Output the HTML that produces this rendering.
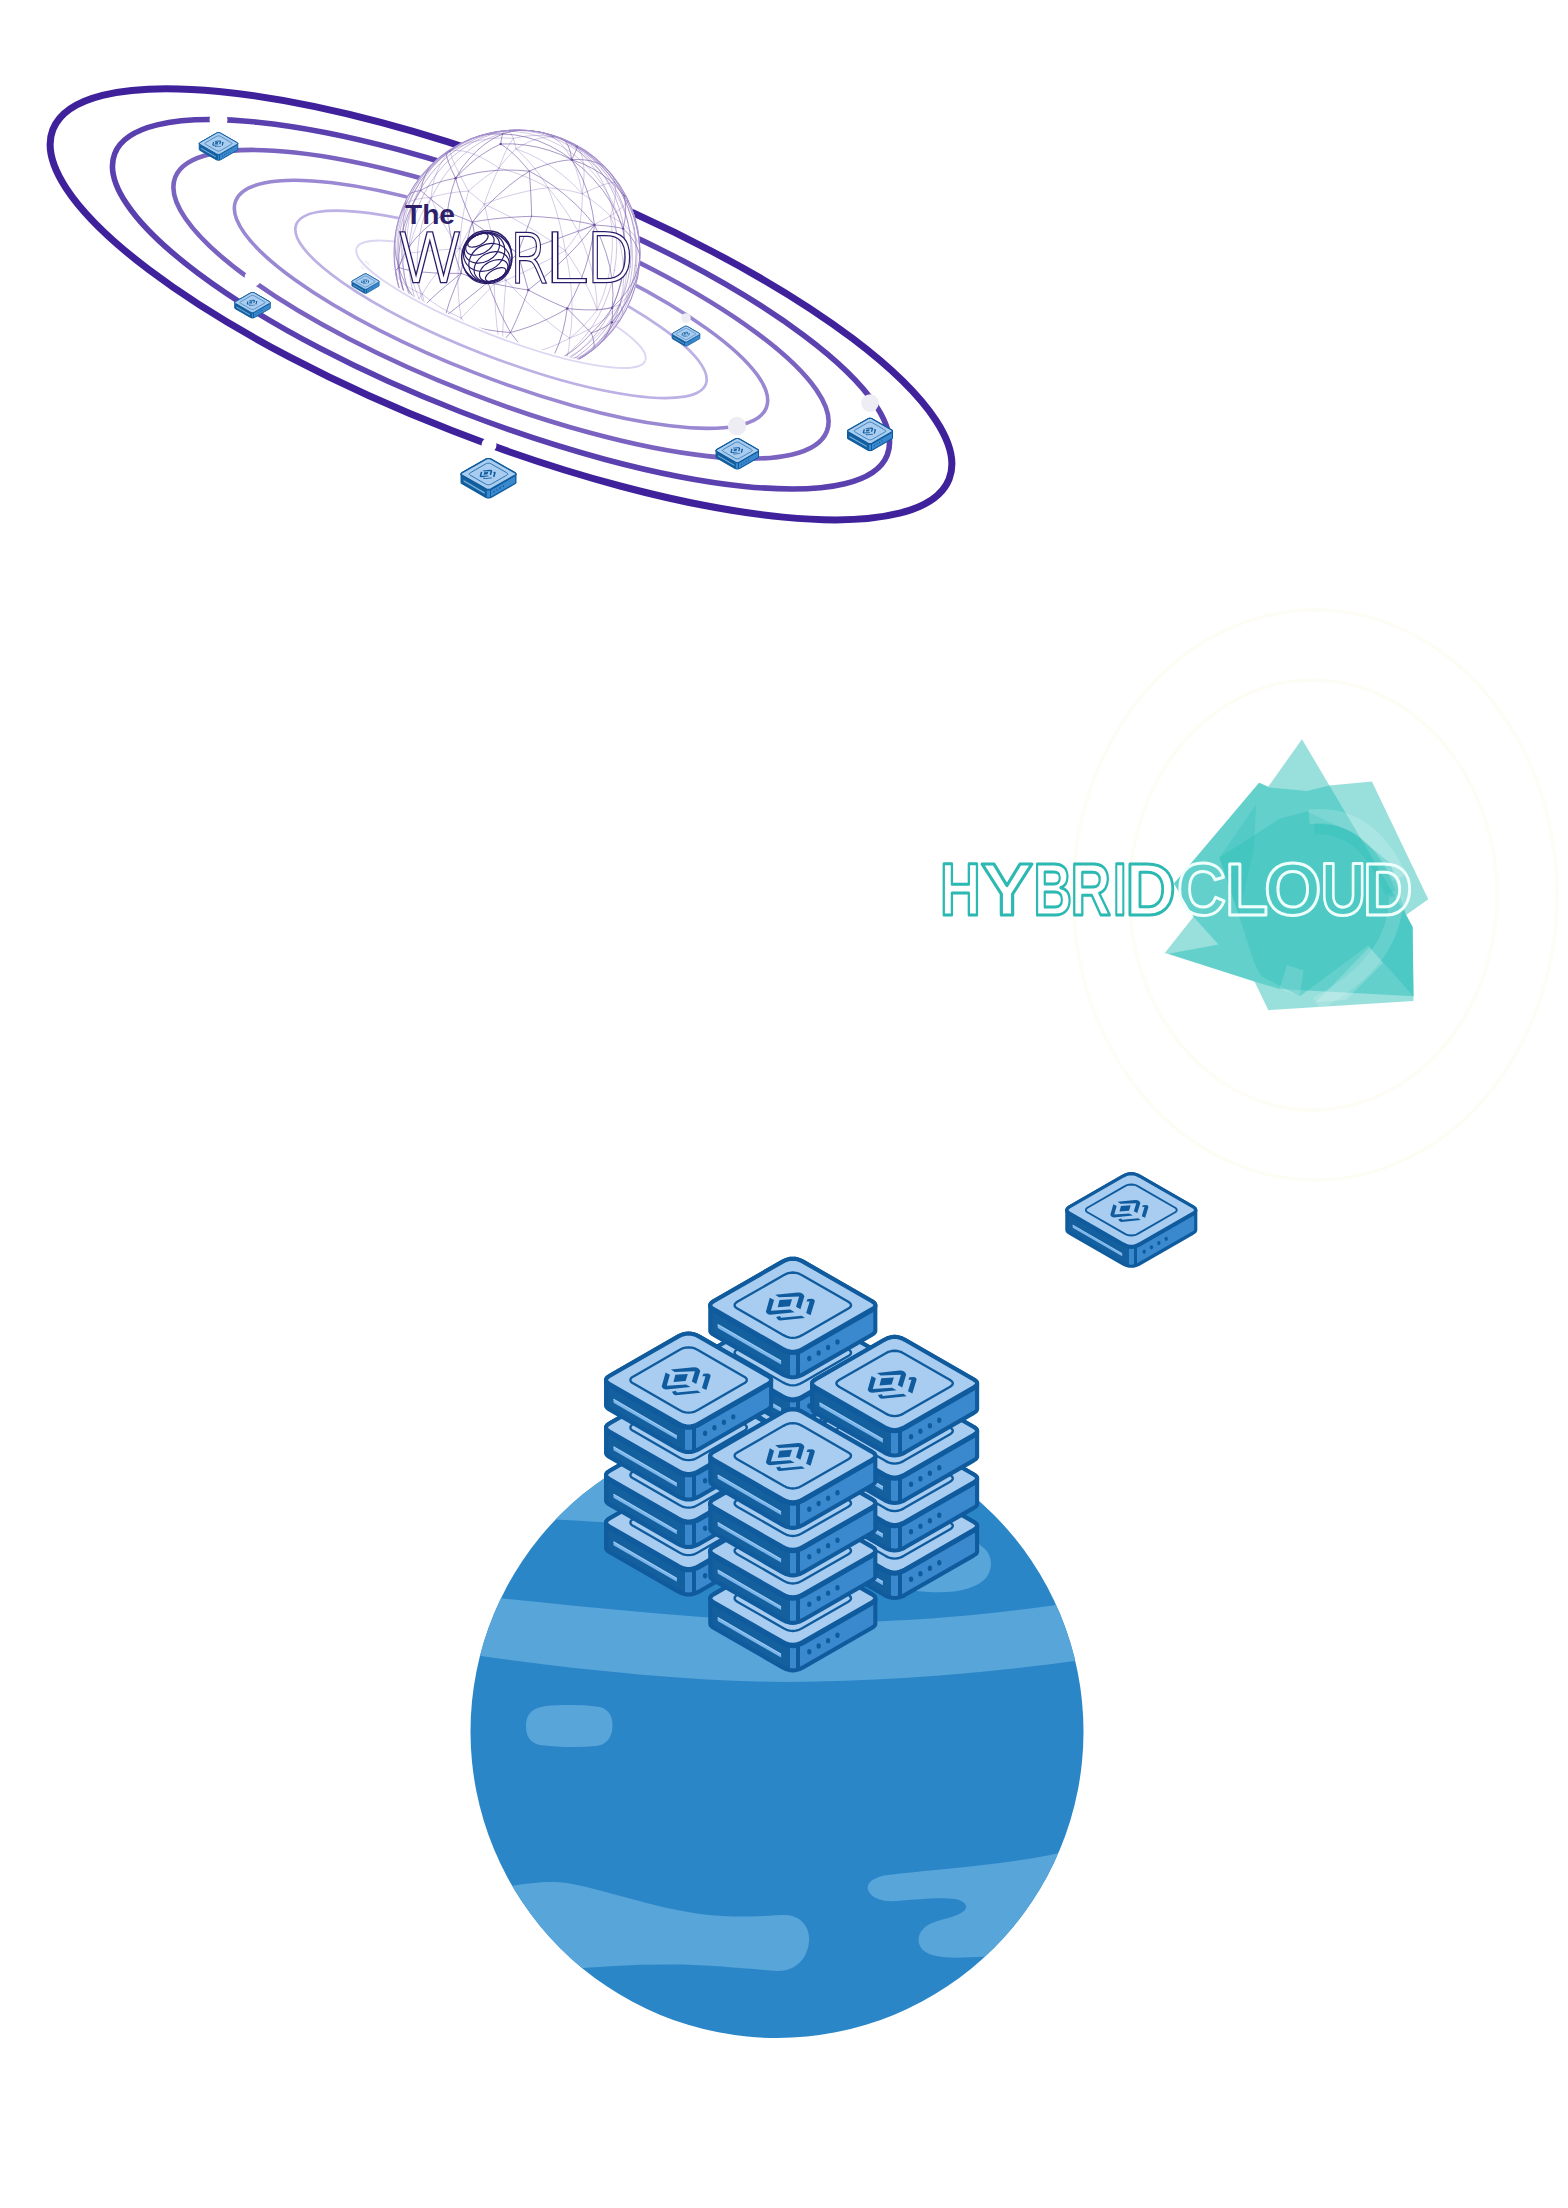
<!DOCTYPE html>
<html lang="en"><head><meta charset="utf-8"><title>The World - Hybrid Cloud</title>
<style>html,body{margin:0;padding:0;background:#fff}body{width:1568px;height:2208px;overflow:hidden}svg{display:block}text{font-family:"Liberation Sans",sans-serif}</style>
</head><body>
<svg width="1568" height="2208" viewBox="0 0 1568 2208">
<defs>
<linearGradient id="sg" gradientUnits="userSpaceOnUse" x1="-85" y1="0" x2="85" y2="0">
<stop offset="0.0000" stop-color="#145f9e"/>
<stop offset="0.4812" stop-color="#145f9e"/>
<stop offset="0.4812" stop-color="#3a89ce"/>
<stop offset="0.5212" stop-color="#3a89ce"/>
<stop offset="0.5212" stop-color="#0f5b9d"/>
<stop offset="0.5435" stop-color="#0f5b9d"/>
<stop offset="0.5435" stop-color="#3a89ce"/>
<stop offset="1.0000" stop-color="#3a89ce"/>
</linearGradient>
<g id="tb">
<path d="M-84.6,0 -84.4,-1 -83.8,-2 -82.7,-3 -81.2,-4 -10.4,-44.7 -7.8,-46 -5.2,-46.9 -2.6,-47.5 0,-47.7 2.6,-47.5 5.2,-46.9 7.8,-46 10.4,-44.7 81.2,-4 82.7,-3 83.8,-2 84.4,-1 84.6,0 84.6,26.2 84.4,27.2 83.8,28.2 82.7,29.2 81.2,30.2 10.4,70.9 7.8,72.2 5.2,73.1 2.6,73.7 0,73.9 -2.6,73.7 -5.2,73.1 -7.8,72.2 -10.4,70.9 -81.2,30.2 -82.7,29.2 -83.8,28.2 -84.4,27.2 -84.6,26.2Z" fill="url(#sg)" stroke="#0f5b9d" stroke-width="4.2" stroke-linejoin="round"/>
<path d="M-77,20 L-12,57.5 L-12,60.8 L-77,23.3Z" fill="#7ab6ec"/>
<path d="M-77,19.8 L-12,57.3" stroke="#a4cff5" stroke-width="1.2" fill="none"/>
<ellipse cx="16.9" cy="54.7" rx="2.2" ry="2.8" fill="#0f5b9d"/>
<ellipse cx="26.5" cy="49" rx="2.2" ry="2.8" fill="#0f5b9d"/>
<ellipse cx="36.2" cy="43.4" rx="2.2" ry="2.8" fill="#0f5b9d"/>
<ellipse cx="45.8" cy="37.8" rx="2.2" ry="2.8" fill="#0f5b9d"/>
<path d="M-10.4,-44.7 -7.8,-46 -5.2,-46.9 -2.6,-47.5 0,-47.7 2.6,-47.5 5.2,-46.9 7.8,-46 10.4,-44.7 81.2,-4 82.7,-3 83.8,-2 84.4,-1 84.6,0 84.4,1 83.8,2 82.7,3 81.2,4 10.4,44.7 7.8,46 5.2,46.9 2.6,47.5 0,47.7 -2.6,47.5 -5.2,46.9 -7.8,46 -10.4,44.7 -81.2,4 -82.7,3 -83.8,2 -84.4,1 -84.6,0 -84.4,-1 -83.8,-2 -82.7,-3 -81.2,-4Z" fill="none" stroke="#0f5b9d" stroke-width="4.2" stroke-linejoin="round" transform="translate(0 1.3)"/>
<path d="M-10.4,-44.7 -7.8,-46 -5.2,-46.9 -2.6,-47.5 0,-47.7 2.6,-47.5 5.2,-46.9 7.8,-46 10.4,-44.7 81.2,-4 82.7,-3 83.8,-2 84.4,-1 84.6,0 84.4,1 83.8,2 82.7,3 81.2,4 10.4,44.7 7.8,46 5.2,46.9 2.6,47.5 0,47.7 -2.6,47.5 -5.2,46.9 -7.8,46 -10.4,44.7 -81.2,4 -82.7,3 -83.8,2 -84.4,1 -84.6,0 -84.4,-1 -83.8,-2 -82.7,-3 -81.2,-4Z" fill="#a9cdf0" stroke="#0f5b9d" stroke-width="4.2" stroke-linejoin="round"/>
<path d="M-9.5,-30.7 -6.4,-32.3 -3.2,-33.2 0,-33.5 3.2,-33.2 6.4,-32.3 9.5,-30.7 56.5,-3.7 58.3,-2.5 59.4,-1.2 59.7,0 59.4,1.2 58.3,2.5 56.5,3.7 9.5,30.7 6.4,32.3 3.2,33.2 0,33.5 -3.2,33.2 -6.4,32.3 -9.5,30.7 -56.5,3.7 -58.3,2.5 -59.4,1.2 -59.7,0 -59.4,-1.2 -58.3,-2.5 -56.5,-3.7Z" fill="none" stroke="#0f5b9d" stroke-width="2.4" stroke-linejoin="round"/>
</g>
<g id="lg" fill="#0f5b9d">
<path d="M-23.6,-7.7 L-19.2,-5.3 L-22.4,5.8 L-2.6,4.5 L2,7.1 L-22.9,9.7 Q-26.4,9.6 -27.6,6.6Z"/>
<path d="M-18.1,-10.7 L5.2,-13.1 Q10.5,-13.4 11.9,-9.2 L7.8,4.1 L3.3,1.6 L6.5,-8.9 L-14.2,-8.1Z"/>
<path d="M-13.6,-5.3 L-0.8,-6.1 L-3,1 L-15.5,2.1Z"/>
<path d="M15.2,-6.4 L19.9,-6.6 Q22.8,-6 22.5,-3.8 L18.2,10.3 L13.7,8.1 L17.3,-3.8 L14.1,-3.8Z"/>
<path d="M-17.1,12 L-13,11 L-12.1,12.8 L9.1,10.7 L12.4,13.1 L-13,15.7 Q-15.4,15.4 -15.8,14.2Z"/>
</g>
<g id="t"><use href="#tb"/><use href="#lg"/></g>
</defs>
<g fill="none" stroke="#fdfdf5" stroke-width="3.5">
<ellipse cx="1313" cy="895" rx="184" ry="215"/>
<ellipse cx="1315" cy="895" rx="242" ry="285"/>
</g>
<g fill="none" transform="translate(501 304.3) rotate(21.3)">
<ellipse cx="0" cy="0" rx="481" ry="135.5" stroke="#3f229b" stroke-width="7.0"/>
<ellipse cx="0" cy="0" rx="414.6" ry="114.8" stroke="#5a3fae" stroke-width="5.6"/>
<ellipse cx="0" cy="0" rx="349.7" ry="94.1" stroke="#7a62c0" stroke-width="4.6"/>
<ellipse cx="0" cy="0" rx="284.8" ry="73.4" stroke="#9a88d2" stroke-width="3.6"/>
<ellipse cx="0" cy="0" rx="219.8" ry="52.7" stroke="#bcb0e4" stroke-width="2.7"/>
<ellipse cx="0" cy="0" rx="154.9" ry="32" stroke="#dcd6f3" stroke-width="1.8"/>
</g>
<circle cx="218.5" cy="120" r="9" fill="#ffffff"/>
<circle cx="253" cy="278" r="8.5" fill="#ffffff"/>
<circle cx="365" cy="265" r="4.5" fill="#f1f0f6"/>
<circle cx="686" cy="318" r="4.8" fill="#eeedf3"/>
<circle cx="870" cy="403" r="8.8" fill="#eeedf3"/>
<circle cx="737" cy="426" r="9.2" fill="#eeedf3"/>
<circle cx="489" cy="445" r="7.5" fill="#ffffff"/>
<clipPath id="gc"><rect x="-1000" y="-1000" width="2000" height="1000" transform="translate(501 304.3) rotate(21.3)"/><ellipse cx="0" cy="0" rx="153.9" ry="31" transform="translate(501 304.3) rotate(21.3)"/></clipPath>
<clipPath id="gcc"><circle cx="517" cy="253" r="123.5"/></clipPath>
<g clip-path="url(#gc)">
<circle cx="517" cy="253" r="123.5" fill="#fff"/>
<g clip-path="url(#gcc)" fill="none" stroke-linecap="round">
<path d="M502.7,134 504.2,131.4 505.8,130.1 507.6,130.1 509.4,131.6 511.4,134.3 513.4,138.4M552.9,136.9 546.5,136 540,135.5 533.4,135.6 526.8,136 520.1,137 513.4,138.4M552.9,136.9 557,138.1 561.1,139.4 565.1,140.9 569,142.5 572.9,144.3 576.7,146.2M552.9,136.9 547.1,137 541.1,137.9 535,139.6 528.7,142 522.4,145.1 516,148.9M552.9,136.9 559.8,142.4 566,149.7 571.4,158.7 576,169.1 579.6,180.9 582.3,193.8M450,151.1 459.6,146.5 469.7,142.8 480.2,140.2 491,138.5 502.1,137.9 513.4,138.4M450,151.1 440.7,158 432.1,165.8 424.2,174.3 417.2,183.6 411.1,193.4 405.8,203.8M450,151.1 456.4,150.5 463.7,151.2 471.7,153.4 480.3,157 489.5,161.9 499,168.1M450,151.1 445.1,156.8 440.8,163.5 437.2,170.9 434.4,179.2 432.3,188.1 431.1,197.6M450,151.1 450.8,154.5 452.5,159.3 455.2,165.4 458.8,172.9 463.3,181.5 468.5,191.1M513.4,138.4 510.9,142 508.4,146.1 505.9,150.8 503.6,156.1 501.3,161.8 499,168.1M513.4,138.4 513.8,139.9 514.2,141.5 514.7,143.2 515.1,145 515.5,146.9 516,148.9M405.8,203.8 408.6,202 412,200.6 416,199.4 420.5,198.5 425.5,197.9 431.1,197.6M405.8,203.8 401.4,214.9 398,226.5 395.8,238.3 394.8,250.2 394.9,262.1 396.2,274M405.8,203.8 404.3,211.4 403.5,219.4 403.6,227.7 404.5,236.1 406.2,244.6 408.7,253.2M605.4,167.5 601.3,163.1 597,158.9 592.3,155.2 587.4,151.8 582.2,148.8 576.7,146.2M605.4,167.5 607.7,169.3 609.7,171.4 611.4,173.7 612.8,176.3 613.9,179.2 614.7,182.3M605.4,167.5 610.2,172.3 614.6,177.4 618.6,182.8 622.2,188.5 625.3,194.4 628,200.7M499,168.1 501.8,164.4 504.6,160.9 507.4,157.6 510.3,154.5 513.1,151.6 516,148.9M499,168.1 493.7,171.4 488.5,174.9 483.3,178.7 478.3,182.6 473.3,186.8 468.5,191.1M499,168.1 507.2,170.3 515.4,172.9 523.7,176 531.9,179.5 540,183.4 548,187.7M499,168.1 496.4,173.4 493.8,179.1 491.3,185 488.9,191.2 486.5,197.6 484.3,204.2M576.7,146.2 584,150.9 591,156.3 597.6,162.1 603.8,168.4 609.5,175.1 614.7,182.3M576.7,146.2 579.9,150.9 582.2,157.1 583.6,164.6 584.1,173.3 583.6,183.1 582.3,193.8M431.1,197.6 436.6,195.9 442.5,194.5 448.6,193.3 455,192.3 461.6,191.6 468.5,191.1M431.1,197.6 425.7,206.3 420.9,215.3 416.8,224.5 413.4,234 410.7,243.6 408.7,253.2M431.1,197.6 434.1,205.2 437.8,213.3 442.3,221.8 447.5,230.5 453.3,239.5 459.8,248.5M516,148.9 521.5,153.9 527,159.5 532.4,165.7 537.8,172.5 543,179.9 548,187.7M516,148.9 527.9,153.5 539.6,159.4 551.1,166.4 562.1,174.6 572.6,183.7 582.3,193.8M396.2,274 396.8,270.7 398.1,267.3 399.9,263.8 402.3,260.3 405.3,256.8 408.7,253.2M396.2,274 397.6,281.7 399.5,289.3 401.9,296.7 404.8,304 408.1,311 411.9,317.8M396.2,274 398.4,277.9 401.6,281.6 405.6,285.1 410.4,288.3 415.9,291.3 422.3,294M614.7,182.3 617.2,185.1 619.6,188.1 621.9,191.1 624.1,194.2 626.1,197.4 628,200.7M614.7,182.3 611.2,182.7 606.9,183.7 601.9,185.3 596,187.6 589.5,190.4 582.3,193.8M614.7,182.3 615.4,187 615.6,192.2 615.1,197.7 614.1,203.6 612.5,209.7 610.4,216.1M468.5,191.1 471,193.1 473.6,195.2 476.2,197.4 478.9,199.6 481.6,201.9 484.3,204.2M468.5,191.1 466.2,200 464.2,209.3 462.5,218.8 461.2,228.6 460.3,238.5 459.8,248.5M548,187.7 537.5,189.2 526.8,191.3 516.1,193.8 505.4,196.8 494.8,200.3 484.3,204.2M548,187.7 554,188.3 559.9,189.1 565.7,190 571.4,191.1 576.9,192.4 582.3,193.8M548,187.7 553.6,194.5 559.1,201.6 564.4,209 569.4,216.6 574.1,224.4 578.4,232.3M548,187.7 551.7,197.3 555.1,207.4 558.2,217.8 560.9,228.6 563.3,239.5 565.3,250.5M408.7,253.2 415.1,252.4 422.4,251.6 430.6,250.8 439.6,250 449.4,249.3 459.8,248.5M408.7,253.2 410.1,260.2 411.8,267.1 413.9,274 416.3,280.8 419.1,287.5 422.3,294M628,200.7 632.2,209.7 635.6,219 638,228.6 639.6,238.3 640.3,248.2 640,258.1M628,200.7 627,202.4 625.2,204.4 622.7,206.9 619.3,209.6 615.2,212.7 610.4,216.1M484.3,204.2 479.7,211.2 475.3,218.4 471.1,225.8 467.1,233.3 463.3,240.9 459.8,248.5M484.3,204.2 487.2,216.3 490.4,228.8 493.9,241.6 497.7,254.6 501.7,267.5 506,280.3M484.3,204.2 497.8,210.6 511.6,217.6 525.4,225.3 539.2,233.4 552.5,241.9 565.3,250.5M411.9,317.8 411.4,315.1 411.7,311.8 413,308.1 415.2,303.8 418.3,299.1 422.3,294M411.9,317.8 417.3,325.3 423.3,332.3 430,338.8 437.3,344.6 445.2,349.9 453.6,354.4M582.3,193.8 582.2,199.8 581.9,206.1 581.3,212.5 580.6,219 579.6,225.6 578.4,232.3M582.3,193.8 587.5,197.2 592.5,200.7 597.3,204.3 601.9,208.1 606.3,212.1 610.4,216.1M459.8,248.5 451.7,256.5 444.3,264.4 437.6,272.1 431.6,279.7 426.5,287.1 422.3,294M459.8,248.5 466.9,254 474.3,259.4 481.9,264.7 489.8,270 497.8,275.2 506,280.3M459.8,248.5 458.6,260.7 458,272.7 457.9,284.6 458.5,296.1 459.6,307.3 461.2,317.9M459.8,248.5 465,254.6 470.5,260.7 476.2,266.7 482,272.6 488.1,278.5 494.2,284.2M640,258.1 640.4,250.6 638.5,243.1 634.5,235.7 628.4,228.7 620.3,222.1 610.4,216.1M640,258.1 639.8,266.5 638.2,274.7 635.5,282.6 631.5,290.3 626.3,297.6 620,304.4M578.4,232.3 584.6,229.3 590.4,226.4 596,223.6 601.1,221 606,218.4 610.4,216.1M578.4,232.3 576.4,235.3 574.3,238.3 572.1,241.4 569.9,244.4 567.6,247.5 565.3,250.5M578.4,232.3 584.1,245.6 588.7,259 592.4,272.3 595.1,285.4 596.7,298 597.1,309.9M422.3,294 425.1,306 428.9,317.4 433.7,328 439.5,337.8 446.1,346.6 453.6,354.4M422.3,294 427.8,298.6 433.8,303 440.1,307.1 446.9,311 453.9,314.6 461.2,317.9M610.4,216.1 616.2,230.7 620.5,245.7 623,260.8 623.8,275.8 622.8,290.4 620,304.4M610.4,216.1 612.2,231.7 612.4,247.7 611,263.8 607.9,279.7 603.3,295.2 597.1,309.9M506,280.3 516.1,275.7 526.3,270.9 536.4,265.9 546.3,260.8 555.9,255.7 565.3,250.5M506,280.3 504,281 502,281.7 500.1,282.3 498.1,283 496.2,283.6 494.2,284.2M506,280.3 504.8,295.7 503.8,310.3 503.1,324 502.6,336.4 502.3,347.4 502.3,356.9M506,280.3 517.3,292.4 528.6,303.8 539.7,314.3 550.4,323.6 560.4,331.6 569.6,338.2M611.8,322.4 616.7,321.6 620.2,319.9 622.4,317.3 623,313.8 622.3,309.5 620,304.4M453.6,354.4 453.4,350.3 453.9,345.4 454.9,339.6 456.5,333 458.6,325.8 461.2,317.9M453.6,354.4 458,359.1 462.9,363.1 468.2,366.3 473.8,368.7 479.7,370.3 485.8,371M453.6,354.4 460.9,356.5 468.7,358 476.8,358.8 485.1,358.8 493.6,358.2 502.3,356.9M565.3,250.5 572.4,261 578.9,271.5 584.7,281.7 589.7,291.6 593.8,301 597.1,309.9M565.3,250.5 568.4,266.7 570.6,282.6 571.9,298 572.1,312.5 571.4,326 569.6,338.2M461.2,317.9 466.1,313 471.3,307.8 476.7,302.3 482.4,296.5 488.2,290.5 494.2,284.2M461.2,317.9 467.4,325.8 473.9,333.2 480.6,340.1 487.7,346.4 494.9,352 502.3,356.9M620,304.4 617.2,313.8 613.5,322.6 609.1,330.9 603.8,338.5 597.9,345.4 591.2,351.5M620,304.4 616.8,305.7 613.4,306.8 609.7,307.8 605.7,308.7 601.5,309.4 597.1,309.9M620,304.4 613.4,311.4 606,317.9 597.8,323.9 589,329.3 579.6,334.1 569.6,338.2M620,304.4 613.4,315.5 605.8,326 597.1,335.6 587.6,344.4 577.3,352.1 566.4,358.8M485.8,371 487.7,372.9 489.9,373 492.5,371.5 495.5,368.2 498.8,363.3 502.3,356.9M494.2,284.2 494.8,298.8 495.7,312.6 496.9,325.5 498.4,337.3 500.3,347.8 502.3,356.9M591.2,351.5 587,354.5 582.6,357.3 578.2,359.8 573.6,362.3 568.9,364.5 564.1,366.5M591.2,351.5 587.6,353.6 583.8,355.3 579.7,356.7 575.5,357.7 571,358.4 566.4,358.8M502.3,356.9 513,362 523.6,365.8 534.2,368.2 544.6,369.1 554.6,368.5 564.1,366.5M502.3,356.9 513.8,356.1 525.4,354.3 536.8,351.6 548.1,348 559.1,343.5 569.6,338.2M502.3,356.9 513.2,359.6 524.2,361.3 535.1,362.1 545.8,362 556.3,360.8 566.4,358.8M597.1,309.9 593.1,315.1 588.8,320.1 584.3,325 579.6,329.6 574.7,334 569.6,338.2M564.1,366.5 564.7,365.6 565.2,364.6 565.6,363.4 565.9,362 566.2,360.5 566.4,358.8M569.6,338.2 569.4,342.2 569.1,346 568.6,349.6 568,352.9 567.3,356 566.4,358.8" stroke="#9a84c4" stroke-width="0.6" opacity="0.7"/>
<path d="M500.7,144 492.6,148 484.6,152.8 476.9,158.2 469.5,164.3 462.3,171 455.6,178.3M500.7,144 501,141.9 501.3,140 501.6,138.3 501.9,136.7 502.3,135.3 502.7,134M500.7,144 505.4,147.2 510.1,150.9 514.9,155.2 519.7,160.1 524.5,165.4 529.3,171.2M500.7,144 512.8,143.9 525,145 537.1,147.1 549,150.3 560.6,154.5 571.7,159.7M455.6,178.3 462.1,168 469.2,158.8 477,150.7 485.2,143.8 493.8,138.2 502.7,134M455.6,178.3 466.9,175 478.9,172.4 491.2,170.8 503.8,170 516.5,170.2 529.3,171.2M455.6,178.3 448.9,179.6 442.6,181.2 436.5,183.1 430.9,185.2 425.6,187.7 420.7,190.5M455.6,178.3 457.5,184.7 459.8,191.5 462.4,198.7 465.4,206.2 468.7,214 472.3,222.1M455.6,178.3 451.3,169.3 448.4,162 446.7,156.4 446.5,152.7 447.6,150.9 450,151.1M455.6,178.3 453.8,183.5 452.1,188.9 450.7,194.5 449.4,200.2 448.3,206.1 447.4,212.1M502.7,134 511.2,131.5 519.8,130.2 528.3,130.1 536.7,131.2 544.9,133.4 552.9,136.9M502.7,134 493,133.9 483.5,134.9 474.4,137.2 465.7,140.7 457.5,145.4 450,151.1M502.7,134 514.6,134.9 526.5,137.2 538.4,140.9 549.9,145.9 561.1,152.2 571.7,159.7M529.3,171.2 519.4,177.8 509.6,185.2 499.9,193.5 490.3,202.5 481.1,212 472.3,222.1M529.3,171.2 536.7,168 544.1,165.4 551.3,163.2 558.4,161.5 565.2,160.4 571.7,159.7M529.3,171.2 529.8,177.9 530.3,185 530.7,192.4 531.1,200.1 531.4,208.1 531.6,216.3M529.3,171.2 541.5,178 553.4,185.8 564.7,194.6 575.5,204.1 585.4,214.3 594.5,225M420.7,190.5 422.8,181.4 426.1,173.2 430.5,165.9 436,159.8 442.5,154.8 450,151.1M420.7,190.5 423.7,193.2 427.3,196.3 431.6,199.8 436.4,203.6 441.7,207.7 447.4,212.1M420.7,190.5 415.8,191.4 411.8,192.8 408.8,194.8 406.8,197.3 405.8,200.3 405.8,203.8M420.7,190.5 413.6,202.3 407.9,214.7 403.5,227.6 400.5,240.8 398.9,254.2 398.9,267.5M552.9,136.9 557.6,136.6 561.8,138.1 565.4,141.2 568.2,145.8 570.4,152.1 571.7,159.7M472.3,222.1 467.9,220.2 463.6,218.5 459.4,216.8 455.3,215.2 451.3,213.6 447.4,212.1M472.3,222.1 481.8,220.5 491.6,219.2 501.5,218.1 511.5,217.3 521.6,216.7 531.6,216.3M472.3,222.1 469.8,230.5 467.5,239 465.5,247.6 463.8,256.2 462.3,264.9 461.1,273.4M472.3,222.1 479.5,227 486.8,232 494.4,237.2 502.1,242.5 509.9,247.9 517.8,253.3M472.3,222.1 474.1,231.9 476.3,241.9 478.8,252.1 481.6,262.2 484.6,272.2 487.8,282.1M571.7,159.7 578.5,159.5 584.8,159.9 590.7,160.9 596.1,162.5 601,164.7 605.4,167.5M571.7,159.7 577.3,168.7 582.3,178.5 586.5,189.2 590,200.6 592.6,212.6 594.5,225M571.7,159.7 574.2,154.5 576.1,150.5 577.3,147.6 577.8,145.9 577.6,145.4 576.7,146.2M571.7,159.7 582.4,163.6 592.4,168.4 601.7,174.1 610.1,180.6 617.5,187.8 624,195.6M571.7,159.7 583.1,168.7 593.4,179 602.8,190.2 610.9,202.4 617.7,215.2 623.1,228.6M447.4,212.1 448.4,222 450,232.1 452,242.4 454.6,252.8 457.6,263.1 461.1,273.4M447.4,212.1 435.2,220.5 424.4,229.4 415.3,238.7 407.9,248.3 402.4,258 398.9,267.5M531.6,216.3 543,217 554.1,218 564.9,219.3 575.3,221 585.2,222.9 594.5,225M531.6,216.3 529.4,222.3 527.1,228.4 524.8,234.5 522.5,240.8 520.1,247 517.8,253.3M405.8,203.8 400.7,213.5 397,223.8 395,234.5 394.7,245.5 396,256.5 398.9,267.5M605.4,167.5 609,171.8 612.5,176.2 615.7,180.8 618.7,185.6 621.5,190.5 624,195.6M461.1,273.4 446.8,273.3 433.7,272.9 422.2,272 412.5,270.9 404.6,269.3 398.9,267.5M461.1,273.4 452.8,280.1 445.1,286.5 438.1,292.5 431.9,298.2 426.6,303.4 422.2,308.1M461.1,273.4 465.4,275 469.7,276.5 474.2,277.9 478.6,279.4 483.2,280.8 487.8,282.1M461.1,273.4 457.6,281.1 454.5,288.6 451.7,295.9 449.2,302.9 447.1,309.7 445.4,316.2M594.5,225 583.5,229.1 571.6,233.5 558.8,238.2 545.5,243.1 531.7,248.2 517.8,253.3M594.5,225 592.5,239.1 589.4,253.4 585.3,267.7 580.2,281.8 574.1,295.4 567.2,308.5M594.5,225 600,225.4 605.3,225.8 610.3,226.4 614.9,227 619.2,227.8 623.1,228.6M594.5,225 585.9,235.7 576.1,246.8 565.2,257.9 553.5,269 541.1,279.7 528.3,290M594.5,225 601,239 606.2,253.2 610,267.4 612.3,281.4 613,294.9 612.2,307.7M398.9,267.5 401.3,274.7 404.4,281.7 408,288.6 412.2,295.3 417,301.8 422.2,308.1M398.9,267.5 397.1,268.8 395.9,270 395.2,271.1 395,272.2 395.3,273.1 396.2,274M398.9,267.5 399.8,274.3 401.1,281.1 402.8,287.7 404.8,294.3 407.1,300.7 409.9,307M517.8,253.3 512.7,258.2 507.6,263.1 502.6,267.9 497.6,272.7 492.6,277.5 487.8,282.1M517.8,253.3 519.6,259.5 521.4,265.7 523.1,271.9 524.9,278 526.6,284.1 528.3,290M624,195.6 625,200.6 625.6,205.9 625.6,211.3 625.3,216.9 624.4,222.7 623.1,228.6M624,195.6 625.3,196.1 626.4,196.7 627.2,197.5 627.8,198.4 628,199.5 628,200.7M624,195.6 629,205.4 633.1,215.5 636.3,225.9 638.5,236.5 639.8,247.3 640,258.1M422.2,308.1 419.7,308.1 417.4,308.1 415.3,307.9 413.3,307.7 411.5,307.4 409.9,307M422.2,308.1 425.7,309.7 429.3,311.2 433.1,312.7 437,314 441.2,315.2 445.4,316.2M422.2,308.1 423.6,314 425.4,319.8 427.4,325.3 429.8,330.6 432.5,335.6 435.4,340.4M567.2,308.5 561.1,305.9 554.8,303.1 548.3,300.1 541.7,296.9 535.1,293.6 528.3,290M567.2,308.5 575.9,309.3 584.2,309.8 592,309.9 599.4,309.6 606.1,308.8 612.2,307.7M567.2,308.5 558.2,313.7 549,318.4 539.6,322.7 530,326.5 520.3,329.8 510.5,332.5M567.2,308.5 572,313.5 576.6,318.1 580.8,322.4 584.7,326.4 588.2,330 591.4,333.1M567.2,308.5 565.2,320.9 562.5,332.4 559.2,342.8 555.4,352 551,359.9 546.2,366.3M396.2,274 396.7,280 398,285.9 399.9,291.5 402.6,296.9 405.9,302.1 409.9,307M487.8,282.1 494.4,283.7 501.2,285.2 507.9,286.5 514.7,287.8 521.5,289 528.3,290M487.8,282.1 479.8,288.7 472,295 464.7,300.9 457.8,306.5 451.3,311.6 445.4,316.2M487.8,282.1 491.2,291.3 494.9,300.3 498.6,309 502.5,317.3 506.5,325.1 510.5,332.5M623.1,228.6 624.4,242 624.5,255.5 623.3,269 620.9,282.3 617.1,295.3 612.2,307.7M623.1,228.6 627.8,233.3 631.8,238.2 635,243.1 637.5,248.1 639.1,253.1 640,258.1M409.9,307 409.6,309.1 409.6,311.1 409.8,313 410.3,314.7 411,316.3 411.9,317.8M409.9,307 413.3,313.1 417.1,319 421.2,324.7 425.7,330.2 430.4,335.4 435.4,340.4M528.3,290 525.4,297.8 522.5,305.3 519.5,312.6 516.5,319.6 513.5,326.2 510.5,332.5M445.4,316.2 455.2,320.5 465.6,324.2 476.4,327.3 487.5,329.8 499,331.5 510.5,332.5M445.4,316.2 442.7,321.2 440.4,325.9 438.5,330.2 437.1,334 436,337.4 435.4,340.4M445.4,316.2 450.4,324.8 455.8,332.9 461.6,340.4 467.9,347.3 474.4,353.6 481.3,359.1M612.2,307.7 619.6,300.4 626,292.6 631.3,284.4 635.4,275.8 638.3,267 640,258.1M612.2,307.7 609.2,312.3 605.9,316.7 602.6,321 599,325.2 595.3,329.2 591.4,333.1M612.2,307.7 612.4,310.3 612.4,312.9 612.4,315.3 612.3,317.8 612.1,320.1 611.8,322.4M411.9,317.8 414.8,322.3 418.1,326.6 421.9,330.6 426,334.2 430.5,337.5 435.4,340.4M510.5,332.5 505.4,338.4 500.3,343.7 495.3,348.4 490.5,352.6 485.8,356.2 481.3,359.1M510.5,332.5 516.7,340.6 522.8,347.7 528.9,354 534.8,359.1 540.6,363.3 546.2,366.3M640,258.1 638.4,269.7 635.6,281.1 631.4,292.1 626,302.8 619.5,312.9 611.8,322.4M435.4,340.4 442.2,344.8 449.4,348.7 456.9,352.1 464.8,355 472.9,357.3 481.3,359.1M435.4,340.4 436.9,344.6 439,348.2 441.8,350.9 445.1,352.9 449.1,354.1 453.6,354.4M435.4,340.4 442.8,347.2 450.6,353.4 458.9,358.9 467.5,363.7 476.6,367.8 485.8,371M591.4,333.1 595.1,331.6 598.7,330 602.2,328.3 605.6,326.5 608.7,324.5 611.8,322.4M591.4,333.1 584.8,340.2 577.7,346.7 570.3,352.5 562.5,357.8 554.5,362.4 546.2,366.3M591.4,333.1 593,338 593.9,342.3 594.2,345.7 593.8,348.5 592.8,350.4 591.2,351.5M481.3,359.1 491.9,362.6 502.7,365.2 513.6,366.9 524.6,367.6 535.4,367.4 546.2,366.3M481.3,359.1 481.9,361.7 482.5,364.1 483.2,366.3 484,368.1 484.9,369.7 485.8,371M611.8,322.4 609.7,328.5 607.1,334.1 603.9,339.3 600.1,343.9 595.9,348 591.2,351.5M546.2,366.3 536.2,369.3 526.1,371.5 516,372.7 505.8,373.1 495.7,372.5 485.8,371M546.2,366.3 554.7,366.1 562.8,364.9 570.7,362.9 578,360 584.9,356.2 591.2,351.5M546.2,366.3 549.7,367.9 553,368.9 556.1,369.3 559.1,369 561.7,368.1 564.1,366.5M485.8,371 498.9,374.4 512.2,376.1 525.5,376.2 538.7,374.6 551.7,371.3 564.1,366.5" stroke="#6a4fa0" stroke-width="0.65" opacity="0.9"/>
<ellipse cx="517" cy="253" rx="119" ry="123.5" transform="rotate(6 517 253)" stroke="#8468b5" stroke-width="0.6" opacity="0.8"/>
<ellipse cx="517" cy="253" rx="114" ry="123.5" transform="rotate(7 517 253)" stroke="#8468b5" stroke-width="0.6" opacity="0.8"/>
<ellipse cx="517" cy="253" rx="108" ry="123.5" transform="rotate(8 517 253)" stroke="#8468b5" stroke-width="0.6" opacity="0.7"/>
<ellipse cx="517" cy="253" rx="99" ry="123.5" transform="rotate(10 517 253)" stroke="#8468b5" stroke-width="0.6" opacity="0.6"/>
<ellipse cx="517" cy="253" rx="120" ry="123.5" transform="rotate(-12 517 253)" stroke="#8468b5" stroke-width="0.6" opacity="0.6"/>
<ellipse cx="517" cy="253" rx="115" ry="123.5" transform="rotate(-16 517 253)" stroke="#8468b5" stroke-width="0.6" opacity="0.6"/>
<ellipse cx="517" cy="253" rx="108" ry="123.5" transform="rotate(-20 517 253)" stroke="#8468b5" stroke-width="0.6" opacity="0.5"/>
</g>
<circle cx="500.7" cy="144" r="1.2" fill="#6a4ea3"/>
<circle cx="455.6" cy="178.3" r="1.2" fill="#6a4ea3"/>
<circle cx="571.7" cy="159.7" r="1.2" fill="#6a4ea3"/>
<circle cx="594.5" cy="225" r="1.2" fill="#6a4ea3"/>
<circle cx="576.7" cy="146.2" r="1.2" fill="#6a4ea3"/>
<circle cx="422.2" cy="308.1" r="1.2" fill="#6a4ea3"/>
<circle cx="567.2" cy="308.5" r="1.2" fill="#6a4ea3"/>
<circle cx="623.1" cy="228.6" r="1.2" fill="#6a4ea3"/>
<circle cx="409.9" cy="307" r="1.2" fill="#6a4ea3"/>
<circle cx="528.3" cy="290" r="1.2" fill="#6a4ea3"/>
<circle cx="612.2" cy="307.7" r="1.2" fill="#6a4ea3"/>
<circle cx="435.4" cy="340.4" r="1.2" fill="#6a4ea3"/>
<circle cx="481.3" cy="359.1" r="1.2" fill="#6a4ea3"/>
<circle cx="611.8" cy="322.4" r="1.2" fill="#6a4ea3"/>
<circle cx="517" cy="253" r="123" fill="none" stroke="#a692cf" stroke-width="1.1"/>
</g>
<clipPath id="fh"><rect x="-1000" y="0" width="2000" height="1000" transform="translate(501 304.3) rotate(21.3)"/></clipPath>
<g clip-path="url(#fh)" fill="none"><ellipse cx="0" cy="0" rx="154.9" ry="32" transform="translate(501 304.3) rotate(21.3)" stroke="#ffffff" stroke-width="5"/><ellipse cx="0" cy="0" rx="154.9" ry="32" transform="translate(501 304.3) rotate(21.3)" stroke="#dcd6f3" stroke-width="1.8"/></g>
<text x="405" y="223.5" font-size="27.6" font-weight="700" fill="#2e1f6b" textLength="50" lengthAdjust="spacingAndGlyphs">The</text>
<text y="281.6" font-size="67" font-weight="200" style="font-family:'DejaVu Sans','Liberation Sans',sans-serif" fill="#fff" paint-order="stroke" stroke="#2a1c6a" stroke-width="2.6" stroke-linejoin="miter"><tspan x="396.1" textLength="69.3" lengthAdjust="spacingAndGlyphs">W</tspan><tspan x="456.9" textLength="60.2" lengthAdjust="spacingAndGlyphs">O</tspan><tspan x="509.3" textLength="39.3" lengthAdjust="spacingAndGlyphs">R</tspan><tspan x="543.2" textLength="44.7" lengthAdjust="spacingAndGlyphs">L</tspan><tspan x="586.1" textLength="48.2" lengthAdjust="spacingAndGlyphs">D</tspan></text>
<g fill="none" stroke="#2a1c6a" stroke-width="1.15">
<circle cx="486.8" cy="257.4" r="25.1" fill="#fff" stroke-width="1.5"/>
<g transform="translate(486.8 257.4) rotate(-27.5)">
<ellipse cx="0" cy="-19.3" rx="11.2" ry="5.2"/>
<ellipse cx="0" cy="19.3" rx="11.2" ry="5.2"/>
<ellipse cx="0" cy="-14.9" rx="15.2" ry="9.6"/>
<ellipse cx="0" cy="14.9" rx="15.2" ry="9.6"/>
<ellipse cx="0" cy="-10.5" rx="18.4" ry="14"/>
<ellipse cx="0" cy="10.5" rx="18.4" ry="14"/>
<ellipse cx="0" cy="-5.9" rx="21.2" ry="18.6"/>
<ellipse cx="0" cy="5.9" rx="21.2" ry="18.6"/>
</g></g>
<use href="#t" transform="translate(218.5 143.5) scale(0.2277)"/>
<use href="#t" transform="translate(252.5 302.5) scale(0.2104)"/>
<use href="#t" transform="translate(365.5 281.5) scale(0.1614)"/>
<use href="#t" transform="translate(686 334) scale(0.1643)"/>
<use href="#t" transform="translate(870 431) scale(0.2652)"/>
<use href="#t" transform="translate(737.3 450.5) scale(0.2508)"/>
<use href="#t" transform="translate(488.5 474) scale(0.3228)"/>
<polygon points="1302,739.2 1329.4,785.5 1371.9,781.4 1428.3,899.2 1406.1,914.9 1412.6,927 1413.5,1000.9 1268.4,1010.2 1254.5,981.5 1164.8,952.9 1193.5,916.8 1174,883.5 1259.1,782.7 1268.4,786.4" fill="#33c1bb" fill-opacity="0.5"/>
<polygon points="1259.1,782.7 1174,883.5 1193.5,916.8 1218.4,944.5 1168.5,953.8 1254.5,981.5 1279.5,988.9 1413.5,996.3 1412.6,927 1406.1,914.9 1373.2,859.5 1343.6,809.5 1329.4,785.5 1307.2,791 1268.4,787.3" fill="#33c1bb" fill-opacity="0.52"/>
<polygon points="1219.4,857.6 1279.5,818.8 1307.2,811.4 1353.4,833.6 1390.4,863.2 1406.1,914.9 1368.2,945.5 1299.8,996.3 1261,976 1253.6,961.2 1238.8,914.9" fill="#33c1bb" fill-opacity="0.45"/>
<polygon points="1368.2,945.5 1406.1,914.9 1412.6,927 1413.5,996.3" fill="#33c1bb" fill-opacity="0.5"/>
<polygon points="1256.3,804 1219.4,857.6 1238.8,914.9 1253.6,850.2" fill="#33c1bb" fill-opacity="0.35"/>
<clipPath id="tc"><polygon points="1302,739.2 1329.4,785.5 1371.9,781.4 1428.3,899.2 1406.1,914.9 1412.6,927 1413.5,1000.9 1268.4,1010.2 1254.5,981.5 1164.8,952.9 1193.5,916.8 1174,883.5 1259.1,782.7 1268.4,786.4"/></clipPath>
<g clip-path="url(#tc)" fill="none" stroke-linecap="butt">
<path d="M1309.1,816.9 Q1370.1,811.4 1399.7,878" stroke="#ffffff" stroke-opacity="0.16" stroke-width="15"/>
<path d="M1314.6,828.9 Q1364.5,826.2 1390.4,892.8" stroke="#22b5b0" stroke-opacity="0.22" stroke-width="11"/>
<path d="M1396,896.5 Q1396,961.2 1316.5,1003.7" stroke="#ffffff" stroke-opacity="0.14" stroke-width="14"/>
</g>
<polygon points="1312.8,1000.9 1368.2,946.4 1390.4,970.4 1353.4,999.1" fill="#33c1bb" fill-opacity="0.0"/>
<polygon points="1316.5,1001.9 1369.2,947.3 1383,963 1346,1000" fill="#ffffff" fill-opacity="0.18"/>
<polygon points="1279.5,988.9 1286.9,964.9 1303.5,970.4 1299.8,996.3" fill="#ffffff" fill-opacity="0.14"/>
<text y="915.2" font-size="74.5" font-weight="700" fill="none" stroke-width="3" stroke-linejoin="round"><tspan stroke="#2bb9b2"><tspan x="940.1" textLength="40.8" lengthAdjust="spacingAndGlyphs">H</tspan><tspan x="980.7" textLength="52.4" lengthAdjust="spacingAndGlyphs">Y</tspan><tspan x="1033.5" textLength="38.5" lengthAdjust="spacingAndGlyphs">B</tspan><tspan x="1070.6" textLength="40.4" lengthAdjust="spacingAndGlyphs">R</tspan><tspan x="1113.1" textLength="13.6" lengthAdjust="spacingAndGlyphs">I</tspan><tspan x="1125.3" textLength="50.5" lengthAdjust="spacingAndGlyphs">D</tspan></tspan><tspan stroke="#effffc"><tspan x="1176.9" textLength="49" lengthAdjust="spacingAndGlyphs">C</tspan><tspan x="1225" textLength="43.1" lengthAdjust="spacingAndGlyphs">L</tspan><tspan x="1264.2" textLength="57.2" lengthAdjust="spacingAndGlyphs">O</tspan><tspan x="1320.5" textLength="45.5" lengthAdjust="spacingAndGlyphs">U</tspan><tspan x="1362.8" textLength="49.8" lengthAdjust="spacingAndGlyphs">D</tspan></tspan></text>
<clipPath id="pc"><circle cx="777" cy="1731.5" r="306.5"/></clipPath>
<circle cx="777" cy="1731.5" r="306.5" fill="#2b86c8"/>
<g clip-path="url(#pc)" fill="#58a5da">
<path d="M440,1400 L440,1516 C500,1517 580,1520 625,1524 C700,1532 800,1580 917,1591 C950,1595 975,1590 986,1578 C995,1566 991,1552 981,1546 C940,1500 900,1450 860,1400Z"/>
<path d="M440,1592 C560,1604 680,1618 790,1622 C900,1624 980,1616 1110,1598 L1110,1656 C1000,1672 900,1681 786,1682 C680,1681 560,1668 440,1650Z"/>
<path d="M546,1706 C566,1704 590,1705 600,1707 C610,1710 613,1718 612.5,1727 C612,1738 606,1745 596,1746 C576,1748 556,1747 540,1745 C530,1743 526,1736 526,1726 C526,1714 532,1708 546,1706Z"/>
<path d="M470,1893 C520,1884 545,1880 566,1883 C600,1888 650,1907 700,1914 C740,1919 770,1915 786,1915 C802,1916 810,1928 809,1941 C808,1958 796,1971 778,1971 C750,1969 710,1965 680,1964.5 C640,1964 600,1966 560,1970 L470,1985Z"/>
<path d="M1110,1838 C1080,1850 1040,1858 1000,1863 C960,1868 920,1871 888,1875 C872,1877 866,1884 868,1890 C871,1898 882,1902 896,1901 C920,1899 940,1897 955,1899 C965,1901 969,1906 964,1911 C956,1918 938,1919 928,1925 C918,1931 916,1942 922,1949 C930,1958 950,1959 985,1956.5 L1110,1950Z"/>
</g>
<use href="#tb" transform="translate(792.8 1447.7) scale(0.9754)"/>
<use href="#tb" transform="translate(792.8 1400.2) scale(0.9754)"/>
<use href="#tb" transform="translate(792.8 1352.7) scale(0.9754)"/>
<use href="#t" transform="translate(792.8 1305.2) scale(0.9754)"/>
<use href="#tb" transform="translate(688.6 1522.5) scale(0.9754)"/>
<use href="#tb" transform="translate(688.6 1475) scale(0.9754)"/>
<use href="#tb" transform="translate(688.6 1427.5) scale(0.9754)"/>
<use href="#t" transform="translate(688.6 1380) scale(0.9754)"/>
<use href="#tb" transform="translate(894.6 1525.9) scale(0.9754)"/>
<use href="#tb" transform="translate(894.6 1478.4) scale(0.9754)"/>
<use href="#tb" transform="translate(894.6 1430.9) scale(0.9754)"/>
<use href="#t" transform="translate(894.6 1383.4) scale(0.9754)"/>
<use href="#tb" transform="translate(792.8 1598.3) scale(0.9754)"/>
<use href="#tb" transform="translate(792.8 1550.8) scale(0.9754)"/>
<use href="#tb" transform="translate(792.8 1503.3) scale(0.9754)"/>
<use href="#t" transform="translate(792.8 1455.8) scale(0.9754)"/>
<use href="#t" transform="translate(1131.3 1210) scale(0.7615)"/>
</svg>
</body></html>
